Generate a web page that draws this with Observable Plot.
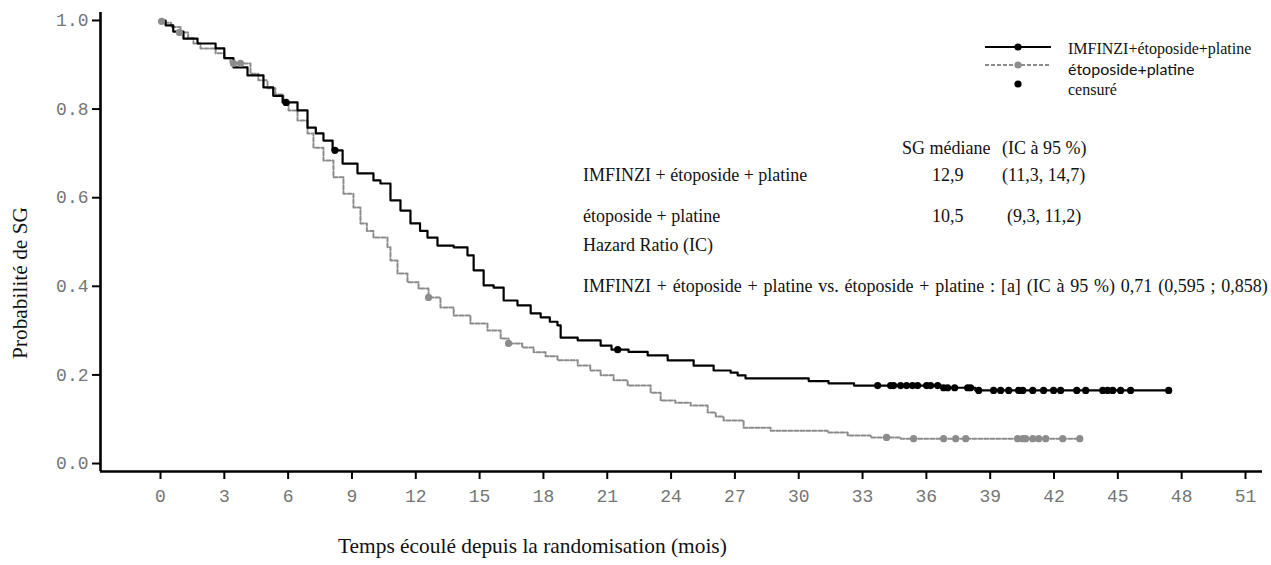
<!DOCTYPE html>
<html>
<head>
<meta charset="utf-8">
<script src="https://cdn.jsdelivr.net/npm/d3@7"></script>
<script src="https://cdn.jsdelivr.net/npm/@observablehq/plot@0.6"></script>
<style>
  html, body { margin: 0; padding: 0; background: #fff; }
  #wrap { position: relative; width: 1271px; height: 565px; overflow: hidden; }
  #wrap svg text { fill: #757575; }
  #wrap svg g[aria-label*="tick"] { stroke-width: 2; }
  #wrap svg .tick line { stroke-width: 2; }
  .t { position: absolute; white-space: nowrap; line-height: 1; transform: translateY(-50%);
       font-family: "Liberation Serif", "Times New Roman", serif; color: #111; }
  .ann { font-size: 18px; }
  .long { word-spacing: 1.3px; }
  .leg { font-size: 16px; }
  .legsans { font-family: Lato, "Liberation Sans", sans-serif; font-size: 16px; }
  .axt { font-size: 21.4px; }
  #legsym { position: absolute; left: 0; top: 0; }
</style>
</head>
<body>
<div id="wrap"></div>
<script>
// ---------------- data ----------------
const seriesNames = ["IMFINZI+étoposide+platine", "étoposide+platine", "censuré"];

// IMFINZI + étoposide + platine (step curve: month, survival)
const imfMonths = [0, 0.24, 0.6, 1.08, 1.74, 2.59, 3.0, 3.43, 4.09, 4.84, 5.3, 5.74, 6.44, 6.91, 7.3, 7.66, 8.09, 8.56, 9.26, 10.01, 10.34, 10.81, 11.28, 11.75, 12.2, 12.55, 13.02, 13.78, 14.43, 14.72, 15.19, 15.66, 16.13, 16.78, 17.4, 17.87, 18.3, 18.66, 18.81, 19.61, 20.69, 21.2, 22.0, 22.9, 23.84, 25.06, 26.0, 26.8, 27.13, 27.5, 30.47, 31.4, 32.6, 36.7, 38.3, 47.39];
const imfSurv   = [1.0, 0.989, 0.975, 0.959, 0.948, 0.937, 0.915, 0.894, 0.876, 0.849, 0.83, 0.815, 0.797, 0.758, 0.745, 0.729, 0.707, 0.677, 0.655, 0.639, 0.632, 0.594, 0.571, 0.542, 0.525, 0.51, 0.492, 0.488, 0.47, 0.436, 0.402, 0.397, 0.368, 0.357, 0.339, 0.33, 0.32, 0.312, 0.284, 0.278, 0.266, 0.257, 0.252, 0.244, 0.233, 0.221, 0.21, 0.205, 0.199, 0.192, 0.186, 0.181, 0.176, 0.171, 0.165, 0.165];
const imfCensMonths = [5.9, 8.2, 21.49, 33.71, 34.32, 34.46, 34.79, 35.07, 35.35, 35.59, 36.01, 36.2, 36.53, 36.81, 37.0, 37.33, 37.94, 38.08, 38.46, 39.16, 39.49, 39.87, 40.34, 40.53, 41.0, 41.51, 41.98, 42.31, 43.07, 43.49, 44.29, 44.52, 44.76, 45.13, 45.6, 47.39];
const imfCensSurv   = [0.815, 0.707, 0.257, 0.176, 0.176, 0.176, 0.176, 0.176, 0.176, 0.176, 0.176, 0.176, 0.176, 0.171, 0.171, 0.171, 0.171, 0.171, 0.165, 0.165, 0.165, 0.165, 0.165, 0.165, 0.165, 0.165, 0.165, 0.165, 0.165, 0.165, 0.165, 0.165, 0.165, 0.165, 0.165, 0.165];

// étoposide + platine
const epMonths = [0, 0.09, 0.5, 0.94, 1.3, 1.55, 1.88, 2.59, 3.0, 3.29, 4.23, 4.6, 5.03, 5.4, 5.78, 6.02, 6.44, 6.91, 7.19, 7.66, 8.13, 8.6, 9.07, 9.4, 9.7, 10.01, 10.67, 10.81, 11.14, 11.61, 12.13, 12.6, 13.16, 13.78, 14.57, 15.37, 15.99, 16.36, 17.0, 17.54, 18.1, 18.66, 19.61, 20.2, 20.69, 21.3, 21.96, 23.04, 23.51, 24.2, 24.92, 25.72, 26.1, 26.47, 27.41, 28.68, 31.36, 32.3, 33.38, 34.8, 43.21];
const epSurv   = [1.0, 0.995, 0.985, 0.973, 0.96, 0.948, 0.937, 0.926, 0.915, 0.903, 0.88, 0.865, 0.847, 0.833, 0.819, 0.797, 0.774, 0.745, 0.713, 0.684, 0.646, 0.609, 0.578, 0.542, 0.525, 0.51, 0.488, 0.458, 0.429, 0.409, 0.395, 0.375, 0.352, 0.334, 0.316, 0.3, 0.282, 0.271, 0.262, 0.251, 0.242, 0.233, 0.221, 0.21, 0.199, 0.188, 0.176, 0.16, 0.142, 0.137, 0.131, 0.115, 0.106, 0.097, 0.081, 0.074, 0.07, 0.063, 0.059, 0.056, 0.056];
const epCensMonths = [0.05, 0.89, 3.43, 3.76, 12.6, 16.36, 34.13, 35.4, 36.81, 37.38, 37.85, 40.29, 40.53, 40.67, 41.0, 41.28, 41.61, 42.41, 43.21];
const epCensSurv   = [0.998, 0.973, 0.903, 0.903, 0.375, 0.271, 0.059, 0.056, 0.056, 0.056, 0.056, 0.056, 0.056, 0.056, 0.056, 0.056, 0.056, 0.056, 0.056];

const xTicks = [0, 3, 6, 9, 12, 15, 18, 21, 24, 27, 30, 33, 36, 39, 42, 45, 48, 51];
const yTicks = [0, 0.2, 0.4, 0.6, 0.8, 1.0];
const xDomain = [-2.82, 51.8];
const yDomain = [-0.018, 1.018];

const xTitle = "Temps écoulé depuis la randomisation (mois)";
const yTitle = "Probabilité de SG";
const medianHeader = ["SG médiane", "(IC à 95 %)"];
const armLabels = ["IMFINZI + étoposide + platine", "étoposide + platine"];
const medians = ["12,9", "10,5"];
const medianCI = ["(11,3, 14,7)", "(9,3, 11,2)"];
const hrTitle = "Hazard Ratio (IC)";
const hrText = "IMFINZI + étoposide + platine vs. étoposide + platine : [a] (IC à 95 %) 0,71 (0,595 ; 0,858)";

// ---------------- build ----------------
const rows = (ms, ss) => ms.map((m, i) => ({t: m, s: ss[i]}));
const imfRows = rows(imfMonths, imfSurv);
const epRows = rows(epMonths, epSurv);
const imfCens = rows(imfCensMonths, imfCensSurv);
const epCens = rows(epCensMonths, epCensSurv);

const gray = "#8c8c8c";

const chart = Plot.plot({
  width: 1271,
  height: 565,
  marginLeft: 100,
  marginRight: 9,
  marginTop: 12,
  marginBottom: 94,
  style: {fontFamily: "'Liberation Mono', 'Courier New', monospace", fontSize: "18px", background: "transparent", overflow: "visible"},
  x: {domain: xDomain, ticks: xTicks, tickSize: 8, tickPadding: 10, label: null, tickFormat: d => String(d)},
  y: {domain: yDomain, ticks: yTicks, tickSize: 8, tickPadding: 4, label: null, tickFormat: d3.format(".1f")},
  marks: [
    Plot.line(epRows, {x: "t", y: "s", curve: "step-after", stroke: gray, strokeWidth: 2, strokeDasharray: "4,2"}),
    Plot.line(imfRows, {x: "t", y: "s", curve: "step-after", stroke: "#000", strokeWidth: 2.2}),
    Plot.dot(epCens, {x: "t", y: "s", r: 3.6, fill: gray, stroke: "none"}),
    Plot.dot(imfCens, {x: "t", y: "s", r: 3.6, fill: "#000", stroke: "none"}),
    Plot.ruleX([xDomain[0]], {stroke: "#000", strokeWidth: 2.6}),
    Plot.ruleY([yDomain[0]], {stroke: "#000", strokeWidth: 2.6})
  ]
});

const wrap = document.getElementById("wrap");
wrap.appendChild(chart);

function addText(txt, cls, left, top, extra) {
  const d = document.createElement("div");
  d.className = "t " + cls;
  d.textContent = txt;
  d.style.left = left + "px";
  d.style.top = top + "px";
  if (extra) Object.assign(d.style, extra);
  wrap.appendChild(d);
  return d;
}

// axis titles
addText(xTitle, "axt", 338, 547);
addText(yTitle, "axt", 21, 283, {transform: "translate(-50%, -50%) rotate(-90deg)"});

// legend symbols
const ns = "http://www.w3.org/2000/svg";
const ls = document.createElementNS(ns, "svg");
ls.setAttribute("id", "legsym");
ls.setAttribute("width", 1271);
ls.setAttribute("height", 100);
ls.innerHTML =
  `<line x1="985" x2="1051" y1="47" y2="47" stroke="#000" stroke-width="2.2"/>` +
  `<circle cx="1018" cy="47" r="3.6" fill="#000"/>` +
  `<line x1="985" x2="1051" y1="65" y2="65" stroke="${gray}" stroke-width="2" stroke-dasharray="4,2"/>` +
  `<circle cx="1018" cy="65" r="3.6" fill="${gray}"/>` +
  `<circle cx="1018" cy="84" r="3.6" fill="#000"/>`;
wrap.appendChild(ls);
addText(seriesNames[0], "leg", 1068, 49);
addText(seriesNames[1], "legsans", 1068, 69);
addText(seriesNames[2], "leg", 1068, 90);

// annotation table
addText(medianHeader[0], "ann", 902, 148);
addText(medianHeader[1], "ann", 1002, 148);
addText(armLabels[0], "ann", 583, 175);
addText(medians[0], "ann", 932, 175);
addText(medianCI[0], "ann", 1002, 175);
addText(armLabels[1], "ann", 583, 216);
addText(medians[1], "ann", 932, 216);
addText(medianCI[1], "ann", 1007, 216);
addText(hrTitle, "ann", 583, 245);
addText(hrText, "ann long", 583, 286);
</script>
</body>
</html>
